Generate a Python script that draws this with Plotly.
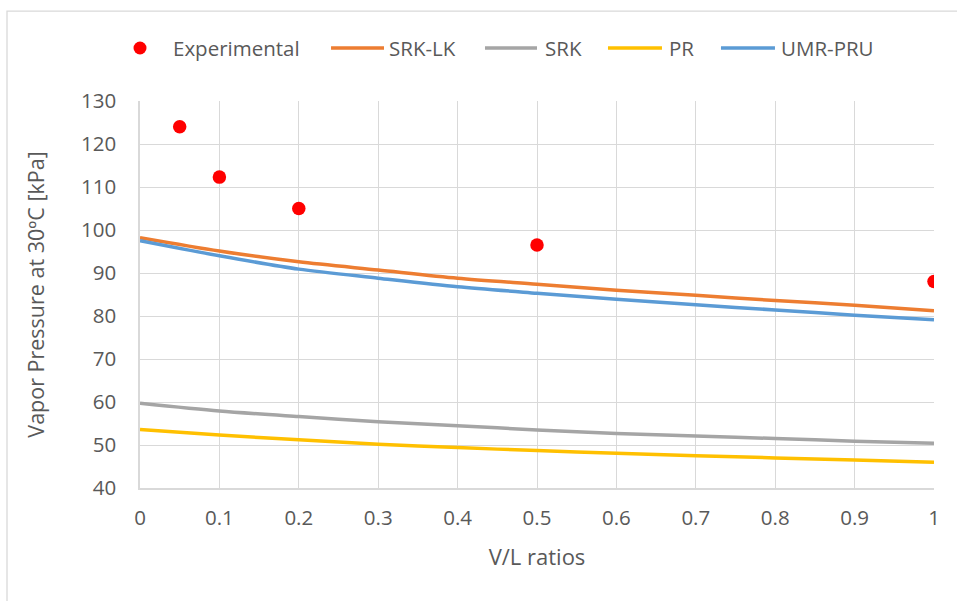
import plotly.graph_objects as go

# V/L ratios and vapour pressures (kPa) at 30 ºC
exp_x = [0.05, 0.1, 0.2, 0.5, 1.0]
exp_y = [124.0, 112.3, 105.0, 96.5, 88.0]

model_x = [0, 0.1, 0.2, 0.3, 0.4, 0.5, 0.6, 0.7, 0.8, 0.9, 1.0]
srk_lk = [98.2, 95.1, 92.6, 90.7, 88.8, 87.4, 86.0, 84.8, 83.6, 82.5, 81.2]
srk = [59.7, 57.9, 56.6, 55.4, 54.5, 53.5, 52.7, 52.1, 51.5, 50.9, 50.4]
pr = [53.6, 52.3, 51.2, 50.2, 49.4, 48.7, 48.1, 47.5, 47.0, 46.5, 46.0]
umr_pru = [97.5, 94.0, 90.9, 88.8, 86.8, 85.3, 83.9, 82.6, 81.4, 80.2, 79.1]

x_ticks = [0, 0.1, 0.2, 0.3, 0.4, 0.5, 0.6, 0.7, 0.8, 0.9, 1]
x_tick_text = ["0", "0.1", "0.2", "0.3", "0.4", "0.5", "0.6", "0.7", "0.8", "0.9", "1"]
y_ticks = [40, 50, 60, 70, 80, 90, 100, 110, 120, 130]

FONT = "Open Sans"
TEXT = "#595959"
GRID = "#d9d9d9"

series = [
    ("SRK-LK", srk_lk, "#ed7d31"),
    ("SRK", srk, "#a5a5a5"),
    ("PR", pr, "#ffc000"),
    ("UMR-PRU", umr_pru, "#5b9bd5"),
]

fig = go.Figure()
fig.add_trace(go.Scatter(
    x=exp_x, y=exp_y, mode="markers", name="Experimental",
    marker=dict(color="#ff0000", size=13.5),
))
for name, ys, color in series:
    fig.add_trace(go.Scatter(
        x=model_x, y=ys, mode="lines", name=name,
        line=dict(color=color, width=3.5, shape="spline", smoothing=0.8),
    ))

# chart frame (top and left edges are visible)
fig.add_shape(
    type="path", xref="paper", yref="paper",
    path="M -0.1675 -0.4 L -0.1675 1.232 L 1.2 1.232",
    line=dict(color="#d9d9d9", width=1.3), layer="below",
)

# legend row above the plot, Excel style (long line keys)
LEG_Y = 1.137
fig.add_shape(
    type="circle", xref="paper", yref="paper", xsizemode="pixel", ysizemode="pixel",
    xanchor=0.0, yanchor=LEG_Y, x0=-6.5, x1=6.5, y0=-6.5, y1=6.5,
    fillcolor="#ff0000", line=dict(width=0),
)
fig.add_annotation(
    x=0.039, y=LEG_Y, xref="paper", yref="paper", text="Experimental",
    showarrow=False, xanchor="left", yanchor="middle",
    font=dict(family=FONT, size=20.5, color=TEXT),
)
key_pos = [(0.2406, 0.3073, 0.3105), (0.4345, 0.5000, 0.5070),
           (0.5894, 0.6574, 0.6635), (0.7317, 0.7997, 0.8045)]
for (name, _, color), (k0, k1, tx) in zip(series, key_pos):
    fig.add_shape(
        type="line", xref="paper", yref="paper",
        x0=k0, x1=k1, y0=LEG_Y, y1=LEG_Y,
        line=dict(color=color, width=3.5),
    )
    fig.add_annotation(
        x=tx, y=LEG_Y, xref="paper", yref="paper", text=name,
        showarrow=False, xanchor="left", yanchor="middle",
        font=dict(family=FONT, size=20.5, color=TEXT),
    )

fig.update_layout(
    width=957, height=601,
    margin=dict(l=140, r=23, t=101, b=113),
    paper_bgcolor="white", plot_bgcolor="white",
    font=dict(family=FONT, color=TEXT, size=20),
    showlegend=False,
    xaxis=dict(
        range=[0, 1], tickvals=x_ticks, ticktext=x_tick_text,
        showgrid=True, gridcolor=GRID, gridwidth=1,
        showline=True, linecolor=GRID, linewidth=1.5,
        zeroline=False, ticks="", ticklabelstandoff=11,
        tickfont=dict(size=20.5, color=TEXT),
        title=dict(text="V/L ratios", font=dict(size=22, color=TEXT), standoff=19),
    ),
    yaxis=dict(
        range=[40, 130], tickvals=y_ticks,
        showgrid=True, gridcolor=GRID, gridwidth=1,
        showline=True, linecolor=GRID, linewidth=1.5,
        zeroline=False, ticks="", ticklabelstandoff=18,
        tickfont=dict(size=20.5, color=TEXT),
        title=dict(text="Vapor Pressure at 30ºC [kPa]", font=dict(size=21.5, color=TEXT), standoff=30),
    ),
)

fig.write_html("out.html")
